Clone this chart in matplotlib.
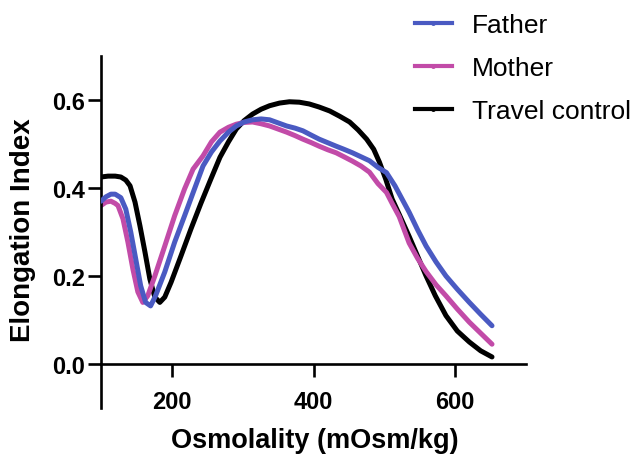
import matplotlib
matplotlib.use('Agg')
import matplotlib.pyplot as plt
from matplotlib.lines import Line2D

plt.rcParams['font.family'] = ['Liberation Sans', 'DejaVu Sans']

# 数据
travel_x = [100, 110, 120, 128, 135, 141, 148, 155, 162, 169, 176, 183, 190, 199, 213, 227,
            241, 255, 268, 280, 291, 302, 314, 326, 338, 352, 366, 380, 394, 408, 423, 437,
            451, 463, 475, 485, 493, 502, 511, 521, 535, 547, 559, 572, 587, 603, 620, 636, 652]
travel_y = [0.425, 0.427, 0.427, 0.425, 0.418, 0.405, 0.368, 0.314, 0.255, 0.193, 0.152, 0.14,
            0.152, 0.186, 0.246, 0.307, 0.365, 0.42, 0.47, 0.505, 0.534, 0.553, 0.568, 0.579,
            0.587, 0.593, 0.596, 0.595, 0.591, 0.584, 0.575, 0.563, 0.55, 0.532, 0.511, 0.488,
            0.459, 0.42, 0.375, 0.34, 0.29, 0.245, 0.2, 0.155, 0.11, 0.075, 0.05, 0.03, 0.016]

father_x = [100, 107, 114, 120, 128, 135, 142, 149, 156, 163, 170, 177, 190, 204, 218, 232,
            244, 256, 268, 280, 291, 302, 314, 326, 338, 350, 362, 374, 385, 397, 408, 420,
            432, 443, 455, 467, 479, 491, 503, 515, 525, 535, 547, 559, 573, 587, 603, 620,
            636, 652]
father_y = [0.37, 0.38, 0.386, 0.386, 0.378, 0.352, 0.3, 0.239, 0.178, 0.14, 0.132, 0.155,
            0.209, 0.277, 0.337, 0.398, 0.45, 0.482, 0.507, 0.527, 0.541, 0.55, 0.555, 0.557,
            0.555, 0.548, 0.541, 0.536, 0.53, 0.52, 0.511, 0.503, 0.495, 0.488, 0.48, 0.471,
            0.462, 0.447, 0.435, 0.405, 0.375, 0.345, 0.305, 0.268, 0.232, 0.2, 0.17, 0.14,
            0.113, 0.087]

mother_x = [100, 107, 114, 120, 124, 131, 138, 145, 152, 159, 166, 176, 190, 204, 218, 230,
            244, 256, 268, 280, 291, 302, 314, 326, 338, 350, 362, 374, 385, 397, 408, 420,
            432, 443, 455, 467, 479, 491, 503, 511, 521, 535, 547, 559, 573, 587, 603, 620,
            636, 652]
mother_y = [0.36, 0.368, 0.37, 0.365, 0.36, 0.33, 0.277, 0.216, 0.164, 0.14, 0.155, 0.2,
            0.268, 0.337, 0.398, 0.443, 0.473, 0.505, 0.527, 0.538, 0.545, 0.549, 0.55, 0.546,
            0.541, 0.534, 0.527, 0.519, 0.511, 0.503, 0.495, 0.487, 0.48, 0.471, 0.461, 0.45,
            0.436, 0.41, 0.39, 0.365, 0.335, 0.275, 0.24, 0.21, 0.18, 0.155, 0.125, 0.095,
            0.07, 0.045]

x_ticks = [200, 400, 600]
y_ticks = [0.0, 0.2, 0.4, 0.6]
series_names = ['Father', 'Mother', 'Travel control']
series_colors = ['#4a5ac2', '#c24ba8', 'black']

fig = plt.figure(figsize=(6.32, 4.64), dpi=100)
ax = fig.add_axes([101 / 632, 55 / 464, 425 / 632, 352 / 464])

# 曲线
line_kw = dict(lw=3.6, solid_capstyle='round', solid_joinstyle='round')
ax.plot(father_x, father_y, color=series_colors[0], zorder=3, **line_kw)
ax.plot(mother_x, mother_y, color=series_colors[1], zorder=2, **line_kw)
ax.plot(travel_x, travel_y, color=series_colors[2], zorder=1, **line_kw)

ax.set_xlim(100, 700)
ax.set_ylim(-0.1, 0.7)
ax.spines['top'].set_visible(False)
ax.spines['right'].set_visible(False)
ax.spines['bottom'].set_position(('data', 0))
for s in ['left', 'bottom']:
    ax.spines[s].set_linewidth(1.9)

ax.set_xticks(x_ticks)
ax.set_yticks(y_ticks)
ax.set_yticklabels([f'{v:.1f}' for v in y_ticks])
ax.tick_params(axis='both', length=9.5, width=1.9, labelsize=17)
ax.tick_params(axis='x', pad=9)
ax.tick_params(axis='y', pad=2)
for lab in ax.get_xticklabels() + ax.get_yticklabels():
    lab.set_fontweight('bold')

ax.set_xlabel('Osmolality (mOsm/kg)', fontsize=19.5, fontweight='bold', va='top')
ax.xaxis.set_label_coords(0.503, -0.054)
ax.set_ylabel('Elongation Index', fontsize=20, fontweight='bold', va='bottom')
ax.yaxis.set_label_coords(-0.153, 0.508)

# 图例
handles = [Line2D([0], [0], color=c, lw=3, marker='o', markersize=2.5) for c in series_colors]
fig.legend(handles, series_names, loc='upper left', bbox_to_anchor=(415 / 632, 1 - 14 / 464),
           frameon=False, fontsize=19, handlelength=1.4, handletextpad=0.76,
           labelspacing=0.72, borderpad=0, borderaxespad=0)

fig.savefig('out.png', dpi=100)
